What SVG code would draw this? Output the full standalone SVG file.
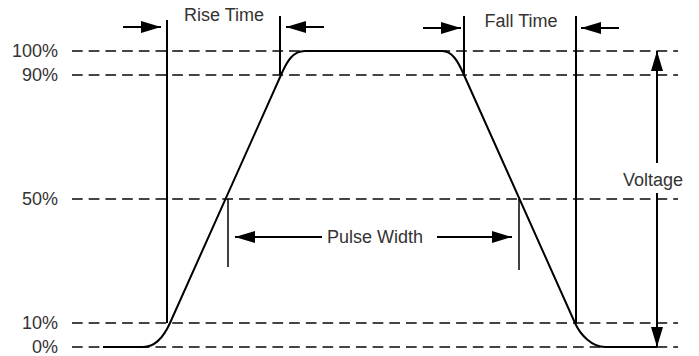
<svg xmlns="http://www.w3.org/2000/svg" width="699" height="356" viewBox="0 0 699 356">
<style>
.lbl{font-family:"Liberation Sans",Arial,sans-serif;font-size:18px;fill:#333}
.dash{stroke:#444;stroke-width:1.8;stroke-dasharray:10.7 6;fill:none}
.wave{stroke:#000;stroke-width:2;fill:none;stroke-linejoin:round}
.vl{stroke:#000;stroke-width:2;fill:none}
.vt{stroke:#000;stroke-width:1.5;fill:none}
.ar{stroke:#000;stroke-width:2;fill:none;marker-end:url(#ah)}
</style>
<defs>
<marker id="ah" markerUnits="userSpaceOnUse" markerWidth="20" markerHeight="12" refX="20" refY="6" orient="auto" viewBox="0 0 20 12">
<path d="M0,0 L20,6 L0,12 z" fill="#000"/>
</marker>
</defs>
<rect width="699" height="356" fill="#fff"/>
<g id="levels">
<line class="dash" x1="72" y1="51" x2="678" y2="51"/>
<line class="dash" x1="72" y1="75" x2="678" y2="75"/>
<line class="dash" x1="72" y1="199" x2="678" y2="199"/>
<line class="dash" x1="72" y1="323" x2="678" y2="323"/>
<line class="dash" x1="72" y1="347" x2="678" y2="347"/>
<text class="lbl" x="58" y="57" text-anchor="end">100%</text>
<text class="lbl" x="58" y="81" text-anchor="end">90%</text>
<text class="lbl" x="58" y="205" text-anchor="end">50%</text>
<text class="lbl" x="58" y="329" text-anchor="end">10%</text>
<text class="lbl" x="58" y="353" text-anchor="end">0%</text>
</g>
<g id="waveform">
<path class="wave" d="M103,347 L143,347 C156,347 164.6,335 170,323 L281,75 C287,61 293,51 305,51 L442,51 C452,51 458,61 464,75 L575,323 C580.4,335 592,347 605,347 L657,347"/>
</g>
<g id="rise-time">
<line class="vl" x1="167" y1="20" x2="167" y2="323"/>
<line class="vl" x1="280" y1="16" x2="280" y2="75"/>
<text class="lbl" x="224" y="21" text-anchor="middle">Rise Time</text>
</g>
<g id="fall-time">
<line class="vl" x1="464" y1="16" x2="464" y2="75"/>
<line class="vl" x1="576" y1="16" x2="576" y2="323"/>
<text class="lbl" x="521" y="27" text-anchor="middle">Fall Time</text>
</g>
<g id="pulse-width">
<line class="vt" x1="228" y1="199" x2="228" y2="267"/>
<line class="vt" x1="519" y1="199" x2="519" y2="270"/>
<text class="lbl" x="375" y="243" text-anchor="middle">Pulse Width</text>
</g>
<g id="voltage">
<text class="lbl" x="653" y="186" text-anchor="middle">Voltage</text>
</g>
<g id="connectors">
<line class="ar" x1="123" y1="27" x2="161" y2="27"/>
<line class="ar" x1="324" y1="27" x2="286" y2="27"/>
<line class="ar" x1="423" y1="28" x2="461" y2="28"/>
<line class="ar" x1="619" y1="28" x2="581" y2="28"/>
<line class="ar" x1="322" y1="237" x2="235" y2="237"/>
<line class="ar" x1="437" y1="237" x2="512" y2="237"/>
<line class="ar" x1="657" y1="163" x2="657" y2="51"/>
<line class="ar" x1="657" y1="193" x2="657" y2="347"/>
</g>
</svg>
